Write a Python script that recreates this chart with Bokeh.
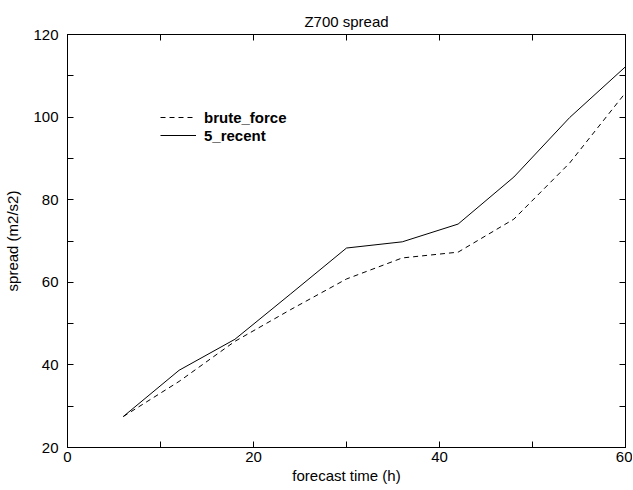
from bokeh.plotting import figure
from bokeh.models import LinearAxis, Range1d, FixedTicker, Legend, LegendItem, CustomJSTickFormatter
from bokeh.embed import file_html
from bokeh.resources import INLINE

hours = [6, 12, 18, 24, 30, 36, 42, 48, 54, 60]
brute_force = [27.5, 36.0, 45.7, 53.4, 60.8, 65.9, 67.3, 75.3, 88.9, 105.9]
recent_5 = [27.5, 38.7, 46.2, 57.2, 68.3, 69.8, 74.1, 85.5, 99.9, 112.2]

x_ticks = [0, 20, 40, 60]
x_minor = [10, 30, 50]
y_ticks = [20, 40, 60, 80, 100, 120]
y_minor = [30, 50, 70, 90, 110]

FONT = "Liberation Sans"
FS = "15px"

p = figure(width=632, height=489, output_backend="svg", toolbar_location=None,
           x_range=Range1d(0, 60), y_range=Range1d(20, 120),
           title="Z700 spread",
           min_border_left=67, min_border_right=7, min_border_top=34, min_border_bottom=42)
p.title.align = "center"
p.title.text_font = FONT
p.title.text_font_size = FS
p.title.text_font_style = "normal"
p.title.text_color = "black"
p.title.standoff = 10
p.xgrid.visible = False
p.ygrid.visible = False
p.outline_line_color = "black"
p.outline_line_width = 1
p.background_fill_color = "white"
p.border_fill_color = "white"

def style(ax, ticks, minor, labels=True):
    ax.ticker = FixedTicker(ticks=ticks, minor_ticks=minor)
    ax.major_tick_in = 6
    ax.major_tick_out = 0
    ax.minor_tick_in = 6
    ax.minor_tick_out = 0
    ax.axis_line_color = "black"
    ax.major_tick_line_color = "black"
    ax.minor_tick_line_color = "black"
    ax.major_label_text_font = FONT
    ax.major_label_text_font_size = FS
    ax.major_label_text_color = "black"
    ax.axis_label_text_font = FONT
    ax.axis_label_text_font_size = FS
    ax.axis_label_text_font_style = "normal"
    ax.axis_label_text_color = "black"
    if not labels:
        ax.formatter = CustomJSTickFormatter(code="return '';")
        ax.major_label_standoff = 0

style(p.xaxis[0], x_ticks, x_minor)
style(p.yaxis[0], y_ticks, y_minor)
p.xaxis[0].axis_label = "forecast time (h)"
p.yaxis[0].axis_label = "spread (m2/s2)"
p.xaxis[0].major_label_standoff = 4
p.yaxis[0].major_label_standoff = 9
p.xaxis[0].axis_label_standoff = 2
p.yaxis[0].axis_label_standoff = 9

top = LinearAxis()
style(top, x_ticks, x_minor, labels=False)
p.add_layout(top, "above")
right = LinearAxis()
style(right, y_ticks, y_minor, labels=False)
p.add_layout(right, "right")

r1 = p.line(hours, brute_force, line_color="black", line_width=1, line_dash="5 4")
r2 = p.line(hours, recent_5, line_color="black", line_width=1)

legend = Legend(items=[LegendItem(label="brute_force", renderers=[r1]),
                       LegendItem(label="5_recent", renderers=[r2])],
                location=(93, 303), padding=0, margin=0, spacing=0,
                glyph_width=36, glyph_height=18, label_height=18, label_standoff=8,
                border_line_color=None, background_fill_alpha=0,
                label_text_font=FONT, label_text_font_size=FS,
                label_text_font_style="bold", label_text_color="black")
p.add_layout(legend, "center")

open("out.html", "w").write(file_html(p, INLINE))
